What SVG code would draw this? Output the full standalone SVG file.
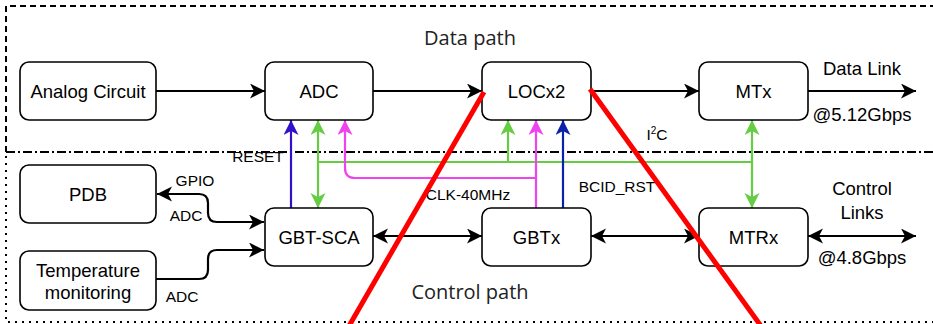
<svg xmlns="http://www.w3.org/2000/svg" width="933" height="324" viewBox="0 0 933 324">
<style>
.box{fill:#fff;stroke:#000;stroke-width:1.6}
.t{font-family:"Liberation Sans",Arial,sans-serif;font-size:18.5px;fill:#000;text-anchor:middle}
.s{font-family:"Liberation Sans",Arial,sans-serif;font-size:15.5px;fill:#000;text-anchor:middle}
.h{font-family:"Open Sans","Noto Sans",sans-serif;font-size:20px;fill:#222;text-anchor:middle}
.k{fill:none;stroke:#000;stroke-width:2.2}
.g{fill:none;stroke:#66cc44;stroke-width:2.2}
.m{fill:none;stroke:#ee44ee;stroke-width:2.2}
.b1{fill:none;stroke:#3311cc;stroke-width:2.2}
.b2{fill:none;stroke:#0a22aa;stroke-width:2.2}
.red{stroke:#ff0000;stroke-width:5;stroke-linecap:butt}
</style>
<defs>
<marker id="ak" markerUnits="userSpaceOnUse" markerWidth="16" markerHeight="16" refX="15" refY="7.5" orient="auto-start-reverse"><path d="M0,0 L15,7.5 L0,15 L4,7.5 Z" fill="#000"/></marker>
<marker id="ag" markerUnits="userSpaceOnUse" markerWidth="16" markerHeight="16" refX="15" refY="7.5" orient="auto-start-reverse"><path d="M0,0 L15,7.5 L0,15 L4,7.5 Z" fill="#66cc44"/></marker>
<marker id="am" markerUnits="userSpaceOnUse" markerWidth="16" markerHeight="16" refX="15" refY="7.5" orient="auto-start-reverse"><path d="M0,0 L15,7.5 L0,15 L4,7.5 Z" fill="#ee44ee"/></marker>
<marker id="ab1" markerUnits="userSpaceOnUse" markerWidth="16" markerHeight="16" refX="15" refY="7.5" orient="auto-start-reverse"><path d="M0,0 L15,7.5 L0,15 L4,7.5 Z" fill="#3311cc"/></marker>
<marker id="ab2" markerUnits="userSpaceOnUse" markerWidth="16" markerHeight="16" refX="15" refY="7.5" orient="auto-start-reverse"><path d="M0,0 L15,7.5 L0,15 L4,7.5 Z" fill="#0a22aa"/></marker>
</defs>
<rect width="933" height="324" fill="#fff"/>
<g id="regions">
<path d="M6,152 V6 H940" fill="none" stroke="#000" stroke-width="2" stroke-dasharray="6 4"/>
<path d="M6,152 H933" fill="none" stroke="#000" stroke-width="2" stroke-dasharray="9 3 2 3"/>
<path d="M6,156 V322 H933" fill="none" stroke="#000" stroke-width="2" stroke-dasharray="2 5"/>
<text class="h" x="470" y="45">Data path</text>
<text class="h" x="470" y="299">Control path</text>
</g>
<g id="connectors">
<path class="k" d="M156,91 H265" marker-end="url(#ak)"/>
<path class="k" d="M373,91 H482" marker-end="url(#ak)"/>
<path class="k" d="M591,91 H699" marker-end="url(#ak)"/>
<path class="k" d="M808,91 H916" marker-end="url(#ak)"/>
<path class="k" d="M373,236 H482" marker-start="url(#ak)" marker-end="url(#ak)"/>
<path class="k" d="M591,236 H699" marker-start="url(#ak)" marker-end="url(#ak)"/>
<path class="k" d="M808,236 H916" marker-start="url(#ak)" marker-end="url(#ak)"/>
<path class="k" d="M157,194 H199 Q208,194 208,203 V213 Q208,222 217,222 H264" marker-start="url(#ak)" marker-end="url(#ak)"/>
<path class="k" d="M156,279 H199 Q208,279 208,270 V259 Q208,250 217,250 H264" marker-end="url(#ak)"/>
<path class="b1" d="M291,208 V120" marker-end="url(#ab1)"/>
<path class="g" d="M318,120 V208" marker-start="url(#ag)" marker-end="url(#ag)"/>
<path class="g" d="M318,162 H752"/>
<path class="g" d="M508,162 V120" marker-end="url(#ag)"/>
<path class="g" d="M752,120 V208" marker-start="url(#ag)" marker-end="url(#ag)"/>
<path class="m" d="M536,208 V120" marker-end="url(#am)"/>
<path class="m" d="M536,178 H355 Q345,178 345,168 V120" marker-end="url(#am)"/>
<path class="b2" d="M563,208 V120" marker-end="url(#ab2)"/>
<text class="s" x="258" y="162">RESET</text>
<text class="s" x="468" y="200">CLK-40MHz</text>
<text class="s" x="617" y="192">BCID_RST</text>
<text class="s" x="657" y="140">I<tspan font-size="10" dy="-6">2</tspan><tspan dy="6">C</tspan></text>
<text class="s" x="195" y="186">GPIO</text>
<text class="s" x="186" y="221">ADC</text>
<text class="s" x="182" y="302">ADC</text>
<text class="t" x="862" y="75">Data Link</text>
<text class="t" x="862" y="121">@5.12Gbps</text>
<text class="t" x="862" y="195">Control</text>
<text class="t" x="862" y="219">Links</text>
<text class="t" x="862" y="264">@4.8Gbps</text>
</g>
<g id="analog"><rect class="box" x="20" y="62" width="136" height="58" rx="9"/><text class="t" x="88" y="97.5">Analog Circuit</text></g>
<g id="adc"><rect class="box" x="265" y="62" width="108" height="58" rx="9"/><text class="t" x="319" y="97.5">ADC</text></g>
<g id="locx2"><rect class="box" x="482" y="62" width="109" height="58" rx="9"/><text class="t" x="536.5" y="97.5">LOCx2</text></g>
<g id="mtx"><rect class="box" x="699" y="62" width="109" height="58" rx="9"/><text class="t" x="753.5" y="97.5">MTx</text></g>
<g id="pdb"><rect class="box" x="20" y="165" width="136" height="58" rx="9"/><text class="t" x="88" y="200.5">PDB</text></g>
<g id="temp"><rect class="box" x="20" y="251" width="136" height="59" rx="9"/><text class="t" x="88" y="276.5">Temperature</text><text class="t" x="88" y="298.5">monitoring</text></g>
<g id="gbtsca"><rect class="box" x="265" y="208" width="108" height="58" rx="9"/><text class="t" x="319" y="243.5">GBT-SCA</text></g>
<g id="gbtx"><rect class="box" x="482" y="208" width="109" height="58" rx="9"/><text class="t" x="536.5" y="243.5">GBTx</text></g>
<g id="mtrx"><rect class="box" x="699" y="208" width="109" height="58" rx="9"/><text class="t" x="753.5" y="243.5">MTRx</text></g>
<g id="strikes">
<line class="red" x1="484" y1="92" x2="349" y2="326"/>
<line class="red" x1="590" y1="89" x2="761" y2="326"/>
</g>
</svg>
